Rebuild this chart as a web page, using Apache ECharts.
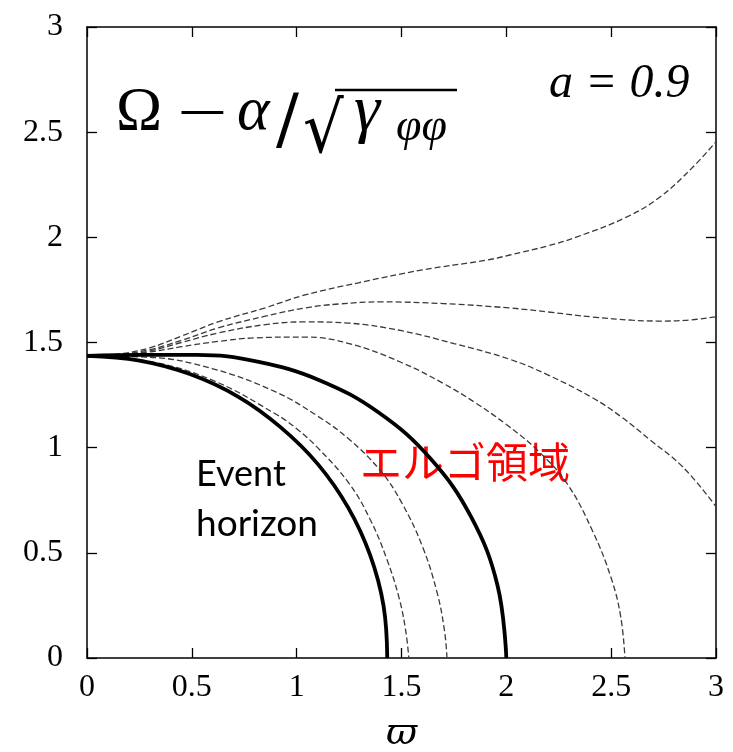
<!DOCTYPE html>
<html>
<head>
<meta charset="utf-8">
<script src="https://cdn.jsdelivr.net/npm/echarts@6/dist/echarts.min.js"></script>
<style>
  html, body { margin: 0; padding: 0; background: #fff; }
  #chart { width: 733px; height: 752px; }
</style>
</head>
<body>
<div id="chart"></div>
<script>
// Axis ticks (both axes run 0..3 in steps of 0.5)
const xTicks = [0, 0.5, 1, 1.5, 2, 2.5, 3];
const yTicks = [0, 0.5, 1, 1.5, 2, 2.5, 3];

// Event horizon (thick solid)
const horizon = [[0,1.436],[0.25,1.414],[0.49,1.35],[0.72,1.243],[0.92,1.10],[1.10,0.923],[1.245,0.716],[1.35,0.49],[1.414,0.25],[1.432,0]];
// Ergosurface (thick solid)
const ergosurface = [[0,1.436],[0.254,1.441],[0.525,1.441],[0.813,1.409],[1.108,1.321],[1.391,1.167],[1.639,0.947],[1.834,0.667],[1.958,0.345],[2.0,0]];

// Contours of Ω − α/√γφφ (dashed)
const contour1 = [[0,1.436],[0.3,1.41],[0.6,1.32],[0.9,1.16],[1.0,1.09],[1.1,1.0],[1.25,0.83],[1.35,0.66],[1.43,0.47],[1.49,0.28],[1.52,0.13],[1.535,0]];
const contour2 = [[0,1.436],[0.3,1.43],[0.6,1.375],[0.9,1.265],[1.1,1.15],[1.25,1.04],[1.4,0.89],[1.5,0.74],[1.6,0.53],[1.67,0.31],[1.705,0.13],[1.717,0]];
const contour3 = [[0,1.436],[0.15,1.44],[0.3,1.455],[0.45,1.48],[0.625,1.505],[0.8,1.522],[1.04,1.526],[1.25,1.495],[1.5,1.405],[1.7,1.305],[1.85,1.215],[2.0,1.11],[2.146,0.99],[2.289,0.83],[2.413,0.6],[2.5,0.38],[2.545,0.2],[2.566,0]];
const contour4 = [[0,1.436],[0.15,1.442],[0.3,1.46],[0.45,1.5],[0.625,1.545],[0.85,1.585],[1.04,1.598],[1.25,1.592],[1.5,1.556],[1.75,1.495],[2.017,1.42],[2.2,1.345],[2.413,1.236],[2.55,1.145],[2.685,1.037],[2.842,0.908],[3.0,0.72]];
const contour5 = [[0,1.436],[0.15,1.443],[0.3,1.466],[0.45,1.51],[0.625,1.569],[0.85,1.625],[1.04,1.664],[1.2,1.683],[1.41,1.693],[1.7,1.685],[2.017,1.664],[2.2,1.645],[2.413,1.621],[2.6,1.606],[2.733,1.602],[2.85,1.605],[3.0,1.622]];
const contour6 = [[0,1.436],[0.15,1.445],[0.3,1.475],[0.45,1.53],[0.625,1.598],[0.85,1.665],[1.04,1.726],[1.3,1.785],[1.6,1.845],[1.908,1.892],[2.017,1.916],[2.2,1.96],[2.337,2.002],[2.575,2.097],[2.733,2.192],[2.89,2.334],[3.0,2.455]];

const contours = [contour1, contour2, contour3, contour4, contour5, contour6];

const serif = '"Liberation Serif", "DejaVu Serif", serif';
const tickLabel = { color: '#000', fontFamily: serif, fontSize: 32 };

function frameAxis(extra) {
  return Object.assign({
    type: 'value', min: xTicks[0], max: xTicks[xTicks.length - 1], interval: 0.5,
    axisLine: { show: true, onZero: false, lineStyle: { color: '#000', width: 1.5 } },
    axisTick: { show: true, inside: true, length: 10, lineStyle: { color: '#000', width: 1.3 } },
    splitLine: { show: false }
  }, extra);
}

// text helper for the annotation pieces
function label(x, y, text, size, opts) {
  opts = opts || {};
  return Object.assign({
    type: 'text', x: x, y: y,
    style: {
      text: text,
      fontFamily: opts.family || serif,
      fontSize: size,
      fontStyle: opts.italic ? 'italic' : 'normal',
      fill: opts.fill || '#000',
      verticalAlign: opts.valign || 'bottom'
    }
  }, opts.el || {});
}

const chart = echarts.init(document.getElementById('chart'), null, { renderer: 'canvas' });

const series = contours.map(c => ({
  type: 'line', data: c, smooth: 0.4, showSymbol: false, clip: true,
  lineStyle: { color: '#3a3a3a', width: 1.3, type: [6, 3] }, z: 2
}));
series.push({
  type: 'line', data: horizon, smooth: 0.4, showSymbol: false, clip: true,
  lineStyle: { color: '#000', width: 3.8 }, z: 3
});
series.push({
  type: 'line', data: ergosurface, smooth: 0.4, showSymbol: false, clip: true,
  lineStyle: { color: '#000', width: 3.8 }, z: 3
});

chart.setOption({
  animation: false,
  backgroundColor: '#fff',
  grid: { left: 87, right: 17, top: 27, bottom: 94, containLabel: false, outerBoundsMode: 'none' },
  xAxis: [
    frameAxis({
      position: 'bottom',
      axisLabel: Object.assign({ margin: 14 }, tickLabel),
      name: 'ϖ', nameLocation: 'middle', nameGap: 57,
      nameTextStyle: { color: '#000', fontFamily: '"DejaVu Serif", serif', fontStyle: 'italic', fontSize: 38 }
    }),
    frameAxis({ position: 'top', axisLabel: { show: false } })
  ],
  yAxis: [
    frameAxis({
      min: yTicks[0], max: yTicks[yTicks.length - 1],
      position: 'left', axisLabel: Object.assign({ margin: 24 }, tickLabel)
    }),
    frameAxis({
      min: yTicks[0], max: yTicks[yTicks.length - 1],
      position: 'right', axisLabel: { show: false }
    })
  ],
  series: series,
  graphic: [
    // formula: Ω − α/√γφφ
    label(116, 144, 'Ω', 62),
    label(177, 117, '−', 62, { valign: 'middle', el: { scaleX: 1.45 } }),
    label(237, 144, 'α', 62, { italic: true }),
    label(276, 124, '/', 68, { family: '"DejaVu Serif", serif', valign: 'middle' }),
    label(303, 134, '√', 64, { family: '"DejaVu Serif", serif', valign: 'middle', el: { scaleY: 1.1 } }),
    { type: 'line', shape: { x1: 335, y1: 90, x2: 457, y2: 90 }, style: { stroke: '#000', lineWidth: 2.5 } },
    label(354, 146, 'γ', 66, { italic: true }),
    label(396, 151, 'φφ', 46, { italic: true }),
    // spin parameter
    label(549, 108, 'a = 0.9', 48, { italic: true }),
    // region labels
    label(196, 474, 'Event', 36, { family: 'Lato, sans-serif', valign: 'middle' }),
    label(196, 524, 'horizon', 37, { family: 'Lato, sans-serif', valign: 'middle' }),
    label(360, 462, 'エルゴ領域', 42, { family: '"Noto Sans CJK JP", sans-serif', valign: 'middle', fill: '#ff0000' })
  ]
});
</script>
</body>
</html>
